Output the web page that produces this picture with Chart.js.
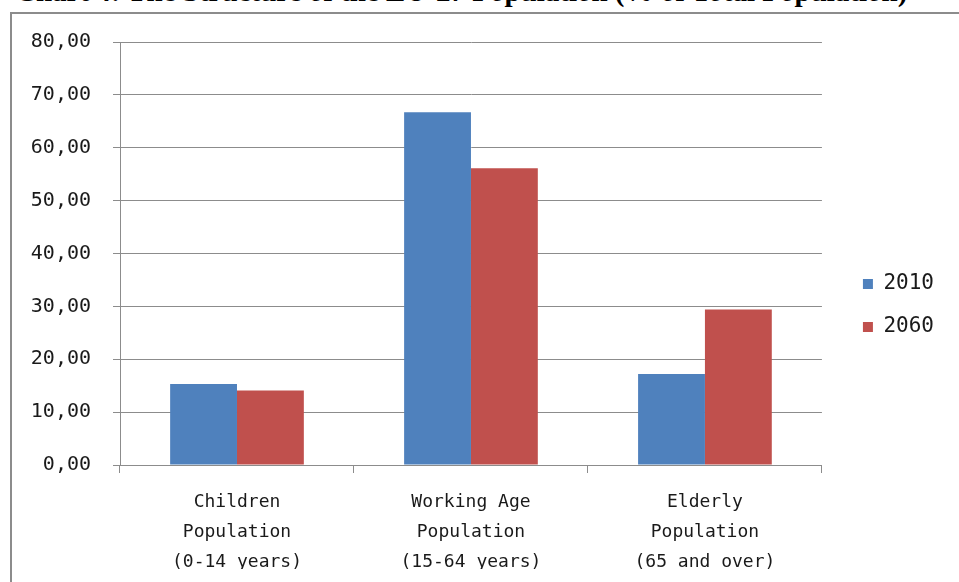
<!DOCTYPE html>
<html>
<head>
<meta charset="utf-8">
<script src="https://cdn.jsdelivr.net/npm/chart.js@4.4.1/dist/chart.umd.min.js"></script>
<style>
  html, body { margin: 0; padding: 0; background: #fff; overflow: hidden; }
  #wrap { position: relative; width: 959px; height: 582px; }
  #frame {
    position: absolute; left: 10px; top: 12px; right: -20px; bottom: -20px;
    border-left: 2px solid #8c8c8c; border-top: 2px solid #8c8c8c;
  }
  #title {
    position: absolute; left: 15px; top: -23px; white-space: nowrap;
    font: bold 29px "Liberation Serif", "Times New Roman", serif; line-height: 29px; color: #000;
  }
  #chart { position: absolute; left: 0; top: 0; }
</style>
</head>
<body>
<div id="wrap">
  <div id="title">Chart 4: The Structure of the EU-27 Population (% of Total Population)</div>
  <div id="frame"></div>
  <canvas id="chart" width="959" height="582"></canvas>
</div>
<script>
// categories (x axis), shown on three lines each
const categories = [
    ['Children', 'Population', '(0-14 years)'],
    ['Working Age', 'Population', '(15-64 years)'],
    ['Elderly', 'Population', '(65 and over)']
];
const seriesNames = ['2010', '2060'];
const values2010 = [15.3, 66.7, 17.2];
const values2060 = [14.1, 56.1, 29.4];
const yTicks = [0, 10, 20, 30, 40, 50, 60, 70, 80];

const gridColor = '#8c8c8c';
const monoFont = '"DejaVu Sans Mono", "Liberation Mono", monospace';

// 0,00 style labels (comma decimal)
function formatTick(v) {
    return Number(v).toFixed(2).replace('.', ',');
}

const ctx = document.getElementById('chart').getContext('2d');

new Chart(ctx, {
    type: 'bar',
    data: {
        labels: categories,
        datasets: [
            { label: seriesNames[0], data: values2010, backgroundColor: '#4F81BD' },
            { label: seriesNames[1], data: values2060, backgroundColor: '#C0504D' }
        ]
    },
    options: {
        responsive: false,
        animation: false,
        layout: { padding: { top: 42, left: 0, right: 15, bottom: 13 } },
        datasets: {
            bar: { categoryPercentage: 2 / 3.5, barPercentage: 1.0 }
        },
        scales: {
            x: {
                grid: { offset: true, drawOnChartArea: false, drawTicks: true, tickLength: 8, color: gridColor },
                border: { color: gridColor },
                ticks: {
                    color: '#1a1a1a',
                    font: { family: monoFont, size: 18, lineHeight: 1.67 },
                    padding: 14,
                    maxRotation: 0,
                    autoSkip: false
                },
                afterFit: s => { s.height = 104; }
            },
            y: {
                min: yTicks[0],
                max: yTicks[yTicks.length - 1],
                afterBuildTicks: s => { s.ticks = yTicks.map(v => ({ value: v })); },
                grid: { color: gridColor, tickLength: 7 },
                border: { color: gridColor },
                ticks: {
                    color: '#1a1a1a',
                    font: { family: monoFont, size: 20 },
                    padding: 22,
                    callback: v => formatTick(v)
                },
                afterFit: s => { s.width = 120; }
            },
            // empty spacer between the plot and the legend
            gap: {
                type: 'linear',
                position: 'right',
                display: true,
                grid: { display: false },
                border: { display: false },
                ticks: { display: false },
                afterFit: s => { s.width = 19; }
            }
        },
        plugins: {
            legend: {
                position: 'right',
                align: 'center',
                labels: {
                    color: '#1a1a1a',
                    font: { family: monoFont, size: 21 },
                    boxWidth: 10,
                    boxHeight: 10,
                    padding: 22
                }
            },
            tooltip: { enabled: false }
        }
    }
});
</script>
</body>
</html>
